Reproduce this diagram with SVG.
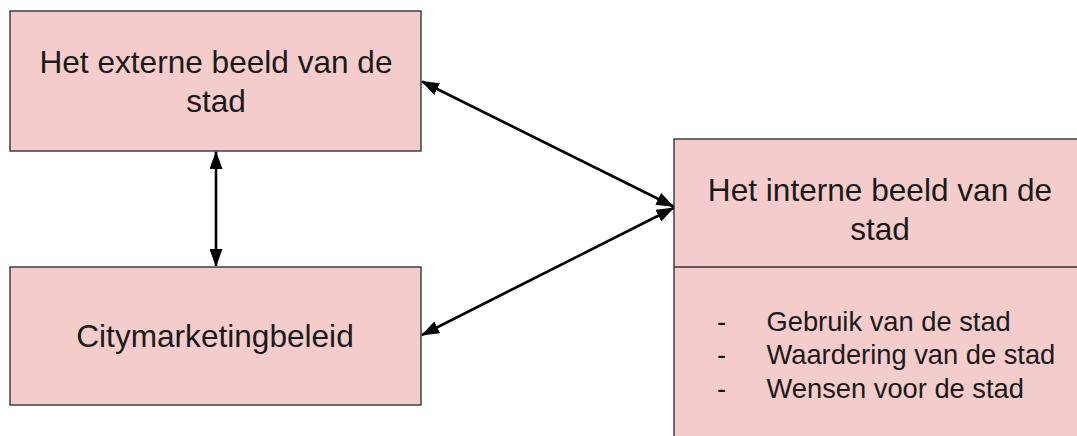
<svg xmlns="http://www.w3.org/2000/svg" width="1077" height="436" viewBox="0 0 1077 436">
<style>
.box{fill:#f4cccc;stroke:#333333;stroke-width:1.4}
.t{font-family:"Liberation Sans",Arial,sans-serif;font-size:31.6px;fill:#1a1a1a}
.c{text-anchor:middle}
.b{font-family:"Liberation Sans",Arial,sans-serif;font-size:27.3px;fill:#1a1a1a}
.ln{stroke:#000;stroke-width:2.6;fill:none;marker-start:url(#ah);marker-end:url(#ah)}
</style>
<defs>
<marker id="ah" markerUnits="userSpaceOnUse" markerWidth="18" markerHeight="13" refX="17" refY="6.5" orient="auto-start-reverse" viewBox="0 0 18 13">
<path d="M0,0 L18,6.5 L0,13 z" fill="#000"/>
</marker>
</defs>
<rect width="1077" height="436" fill="#ffffff"/>
<g id="node-extern">
<rect class="box" x="10" y="11" width="411" height="140"/>
<text class="t c" x="216" y="73">Het externe beeld van de</text>
<text class="t c" x="216" y="111.5">stad</text>
</g>
<g id="node-citymarketing">
<rect class="box" x="10" y="267" width="411" height="138"/>
<text class="t c" x="215" y="346.5">Citymarketingbeleid</text>
</g>
<g id="node-intern">
<rect class="box" x="674" y="139" width="412" height="310"/>
<line x1="674" y1="267" x2="1086" y2="267" stroke="#333333" stroke-width="1.4"/>
<text class="t c" x="880" y="200.5">Het interne beeld van de</text>
<text class="t c" x="880" y="240">stad</text>
<text class="b" x="717" y="330.5">-</text>
<text class="b" x="766.5" y="330.5">Gebruik van de stad</text>
<text class="b" x="717" y="364">-</text>
<text class="b" x="766.5" y="364">Waardering van de stad</text>
<text class="b" x="717" y="397.5">-</text>
<text class="b" x="766.5" y="397.5">Wensen voor de stad</text>
</g>
<g id="connectors">
<line class="ln" x1="216" y1="152" x2="216" y2="266"/>
<line class="ln" x1="422" y1="81.5" x2="673.5" y2="206.5"/>
<line class="ln" x1="673.5" y1="208" x2="422" y2="335"/>
</g>
</svg>
